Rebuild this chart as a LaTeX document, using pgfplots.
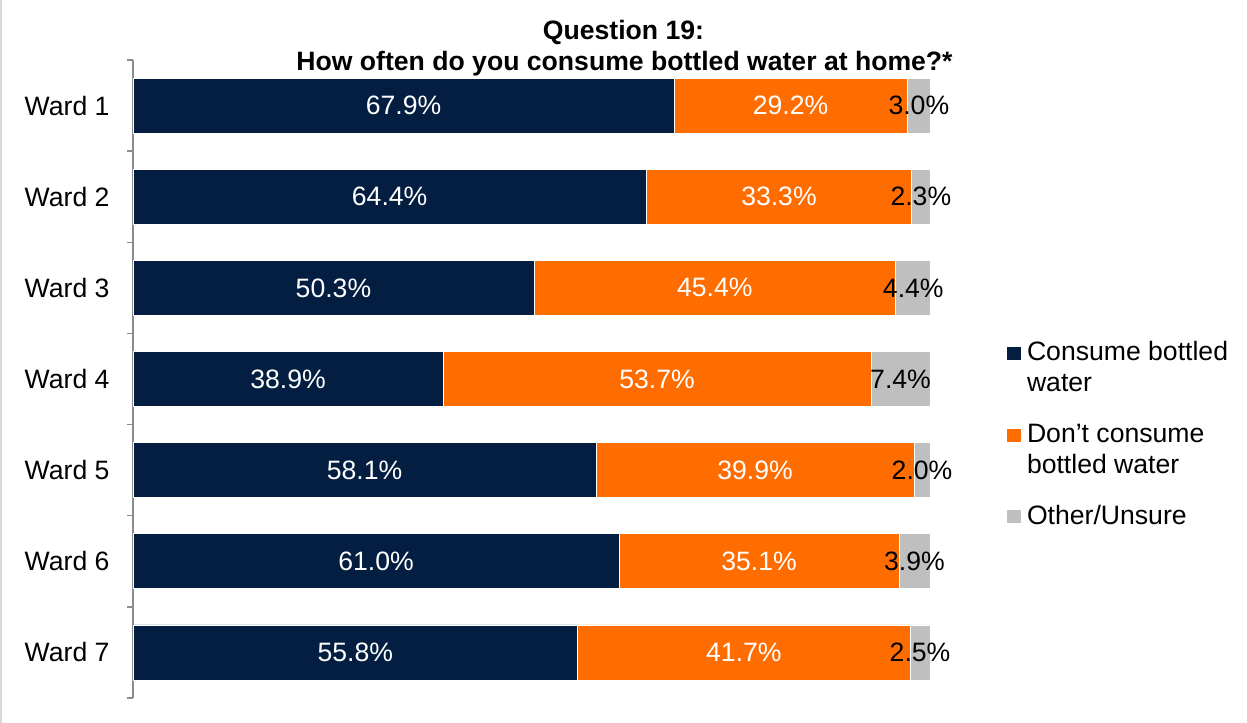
\documentclass[border=0pt]{standalone}
\usepackage{pgfplots}
\pgfplotsset{compat=1.18}
\usepackage{pgfplotstable}
\usepackage{fontspec}
\setmainfont{Liberation Sans}
\definecolor{navy}{HTML}{041E42}
\definecolor{orng}{HTML}{FF6D00}
\definecolor{lgray}{HTML}{BFBFBF}
\definecolor{axgray}{HTML}{8C8C8C}
\newcommand\F{\fontsize{26.7}{31}\selectfont}
\newcommand\FT{\fontsize{26.7}{31}\selectfont}

\pgfplotstableread{
ward c d o
1 67.9 29.2 3.0
2 64.4 33.3 2.3
3 50.3 45.4 4.4
4 38.9 53.7 7.4
5 58.1 39.9 2.0
6 61.0 35.1 3.9
7 55.8 41.7 2.5
}\datatable
% label positions: middle of each segment
\pgfplotstablecreatecol[create col/expr={\thisrow{c}/2}]{cm}\datatable
\pgfplotstablecreatecol[create col/expr={\thisrow{c}+\thisrow{d}/2}]{dm}\datatable
\pgfplotstablecreatecol[create col/expr={\thisrow{c}+\thisrow{d}+\thisrow{o}/2}]{om}\datatable

\pgfplotsset{
  geom/.style={
    at={(133bp,25bp)}, anchor=south west,
    scale only axis, width=797bp, height=638bp,
    xmin=0, xmax=100, ymin=0.5, ymax=7.5, y dir=reverse, clip=false,
  }
}

\begin{document}
\begin{tikzpicture}[x=1bp,y=1bp]
\path[use as bounding box] (0,0) rectangle (1247,723);
\draw[color=black!15, line width=2bp] (1,0) -- (1,723);
\begin{axis}[
  geom,
  xbar stacked, bar width=55bp,
  axis x line=none, axis y line*=left,
  y axis line style={draw=axgray, line width=1.5bp},
  ytick={1,...,7},
  yticklabels={Ward 1,Ward 2,Ward 3,Ward 4,Ward 5,Ward 6,Ward 7},
  major tick length=0pt,
  minor ytick={0.5,1.5,...,7.5},
  minor tick length=6bp,
  ytick align=outside,
  minor tick style={draw=axgray, line width=1.5bp},
  yticklabel style={font=\F, anchor=east, xshift=-20bp},
  legend style={at={(axis description cs:1.0966,0.5622)}, anchor=north west,
     draw=none, fill=none, inner sep=0pt, outer sep=0pt, font=\F,
     row sep=20bp, column sep=6bp, cells={anchor=base west},
     nodes={inner sep=0pt, text depth=}},
  legend image code/.code={\draw[#1,/tikz/.cd,draw=none] (0bp,1bp) rectangle (14bp,14bp);},
]
\addplot[fill=navy, draw=white, line width=0.75bp]
  table[x=c, y=ward] \datatable;
\addlegendentry{\begin{tabular}[t]{@{}l@{}}Consume bottled\\water\end{tabular}}
\addplot[fill=orng, draw=white, line width=0.75bp]
  table[x=d, y=ward] \datatable;
\addlegendentry{\begin{tabular}[t]{@{}l@{}}Don’t consume\\bottled water\end{tabular}}
\addplot[fill=lgray, draw=white, line width=0.75bp]
  table[x=o, y=ward] \datatable;
\addlegendentry{\begin{tabular}[t]{@{}l@{}}Other/Unsure\end{tabular}}
\end{axis}
\begin{axis}[
  geom, hide axis,
  point meta=explicit,
  /pgf/number format/assume math mode=true,
  nodes near coords={\pgfmathprintnumber[fixed,fixed zerofill,precision=1]{\pgfplotspointmeta}\%},
  every node near coord/.append style={font=\F, anchor=center, inner sep=0pt},
]
\addplot[draw=none, every node near coord/.append style={text=white}]
  table[x=cm, y=ward, meta=c] \datatable;
\addplot[draw=none, every node near coord/.append style={text=white}]
  table[x=dm, y=ward, meta=d] \datatable;
\addplot[draw=none, every node near coord/.append style={text=black}]
  table[x=om, y=ward, meta=o] \datatable;
\end{axis}
\node[font=\FT\bfseries, anchor=base, inner sep=0pt] at (623.5,683) {Question 19:};
\node[font=\FT\bfseries, anchor=base, inner sep=0pt] at (624.5,652.3) {How often do you consume bottled water at home?*};
\end{tikzpicture}
\end{document}
